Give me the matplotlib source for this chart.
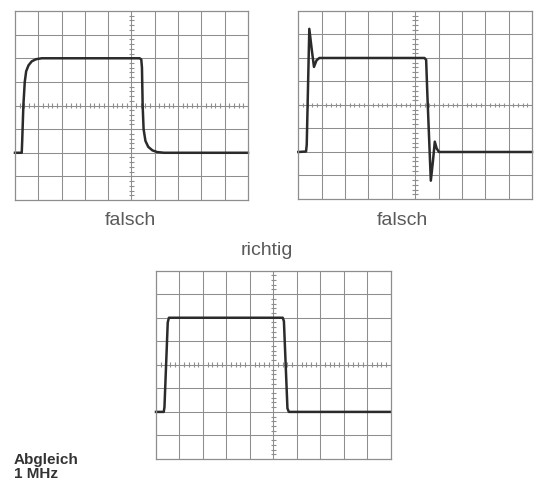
import numpy as np
from matplotlib import pyplot as plt

# traces in screen divisions (x: 0..10, y: -4..4)
slow_x = [0, 0.29, 0.31, 0.36, 0.42, 0.48, 0.58, 0.72, 0.9, 1.15,
          5.35, 5.42, 5.45, 5.48, 5.52, 5.6, 5.72, 5.9, 6.1, 6.4, 10]
slow_y = [-2, -2, -1.5, 0.0, 1.0, 1.45, 1.7, 1.87, 1.96, 2.0,
          2.0, 1.95, 1.6, 0.0, -1.0, -1.5, -1.75, -1.9, -1.97, -2.0, -2]

over_x = [0, 0.33, 0.36, 0.47, 0.57, 0.67, 0.78, 0.9,
          5.4, 5.47, 5.52, 5.6, 5.67, 5.76, 5.84, 5.92, 6.02, 10]
over_y = [-2, -1.98, -1.7, 3.24, 2.4, 1.62, 1.9, 2.0,
          2.0, 1.92, 0.5, -1.5, -3.22, -2.4, -1.56, -1.85, -2.0, -2]

good_x = [0, 0.33, 0.36, 0.5, 0.55, 5.4, 5.45, 5.6, 5.66, 10]
good_y = [-2, -2, -1.8, 1.8, 2.0, 2.0, 1.85, -1.85, -2.0, -2]

labels = ["falsch", "falsch", "richtig"]

grid_col = "#8e8e8e"
trace_col = "#2b2b2b"
text_col = "#5a5a5a"

fig = plt.figure(figsize=(5.35, 4.81), dpi=100)
fig.patch.set_facecolor("white")

def screen(rect, xs, ys):
	ax = fig.add_axes(rect)
	ax.set_xlim(0, 10)
	ax.set_ylim(-4, 4)
	for sp in ax.spines.values():
		sp.set_color(grid_col)
		sp.set_linewidth(0.9)
	ax.set_xticks([])
	ax.set_yticks([])
	ax.vlines(np.arange(1, 10), -4, 4, color=grid_col, lw=0.75)
	ax.hlines(np.arange(-3, 4), 0, 10, color=grid_col, lw=0.75)
	# small marks on the centre lines
	tx = np.arange(0, 10.01, 0.2)
	ty = np.arange(-4, 4.01, 0.2)
	ax.vlines(tx, -0.1, 0.1, color=grid_col, lw=0.8)
	ax.hlines(ty, 4.88, 5.12, color=grid_col, lw=0.8)
	ax.plot(xs, ys, color=trace_col, lw=1.8, solid_joinstyle="round", clip_on=False)
	return ax

screen([0.028, 0.5821, 0.4355, 0.3929], slow_x, slow_y)
screen([0.5576, 0.5842, 0.4368, 0.3909], over_x, over_y)
screen([0.2916, 0.0437, 0.4387, 0.3915], good_x, good_y)

fnt = "Liberation Sans"
fig.text(0.243, 0.541, labels[0], ha="center", va="center", fontsize=14, color=text_col, family=fnt)
fig.text(0.753, 0.541, labels[1], ha="center", va="center", fontsize=14, color=text_col, family=fnt)
fig.text(0.4985, 0.480, labels[2], ha="center", va="center", fontsize=14, color=text_col, family=fnt)

fig.text(0.026, 0.0353, "Abgleich", ha="left", va="baseline", fontsize=11, fontweight="bold", color="#333333", family=fnt)
fig.text(0.026, 0.0062, "1 MHz", ha="left", va="baseline", fontsize=11, fontweight="bold", color="#333333", family=fnt)

plt.savefig("out.png", dpi=100)
